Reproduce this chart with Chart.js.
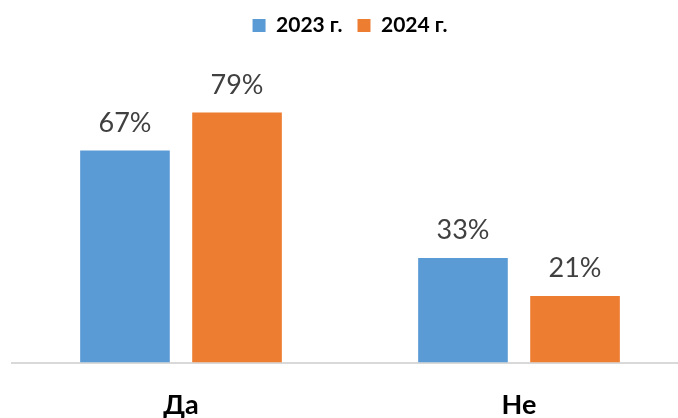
<!DOCTYPE html>
<html>
<head>
<meta charset="utf-8">
<script src="https://cdn.jsdelivr.net/npm/chart.js@4"></script>
<style>
  html, body { margin: 0; padding: 0; background: #fff; overflow: hidden; }
</style>
</head>
<body>
<canvas id="chart" width="688" height="418"></canvas>
<script>
// данни
const categories = ['Да', 'Не'];
const series2023 = [67, 33];
const series2024 = [79, 21];
const seriesNames = ['2023 г.', '2024 г.'];

const fontFamily = 'Lato, "Open Sans", sans-serif';

// етикети над стълбовете
const valueLabels = {
  id: 'valueLabels',
  afterDatasetsDraw(chart) {
    const ctx = chart.ctx;
    ctx.save();
    ctx.font = '400 27px ' + fontFamily;
    ctx.fillStyle = '#404040';
    ctx.textAlign = 'center';
    ctx.textBaseline = 'bottom';
    chart.data.datasets.forEach((ds, i) => {
      chart.getDatasetMeta(i).data.forEach((bar, j) => {
        ctx.fillText(ds.data[j] + '%', bar.x, bar.y - 14);
      });
    });
    ctx.restore();
  }
};

new Chart(document.getElementById('chart'), {
  type: 'bar',
  data: {
    labels: categories,
    datasets: [
      { label: seriesNames[0], data: series2023, backgroundColor: '#5B9BD5' },
      { label: seriesNames[1], data: series2024, backgroundColor: '#ED7D31' }
    ]
  },
  options: {
    responsive: false,
    animation: false,
    layout: { padding: { left: 12, right: 0, top: 0, bottom: -21 } },
    categoryPercentage: 0.663,
    barPercentage: 0.8,
    plugins: {
      legend: {
        position: 'top',
        labels: {
          color: '#000',
          font: { family: fontFamily, size: 21, weight: 'bold' },
          boxWidth: 13,
          boxHeight: 13,
          padding: 15
        }
      },
      tooltip: { enabled: false }
    },
    scales: {
      x: {
        grid: { display: false },
        border: { color: '#d9d9d9', width: 2 },
        ticks: { color: '#000', font: { family: fontFamily, size: 27, weight: 'bold' }, padding: 18 }
      },
      y: { display: false, min: 0, max: 100 }
    }
  },
  plugins: [valueLabels]
});
</script>
</body>
</html>
